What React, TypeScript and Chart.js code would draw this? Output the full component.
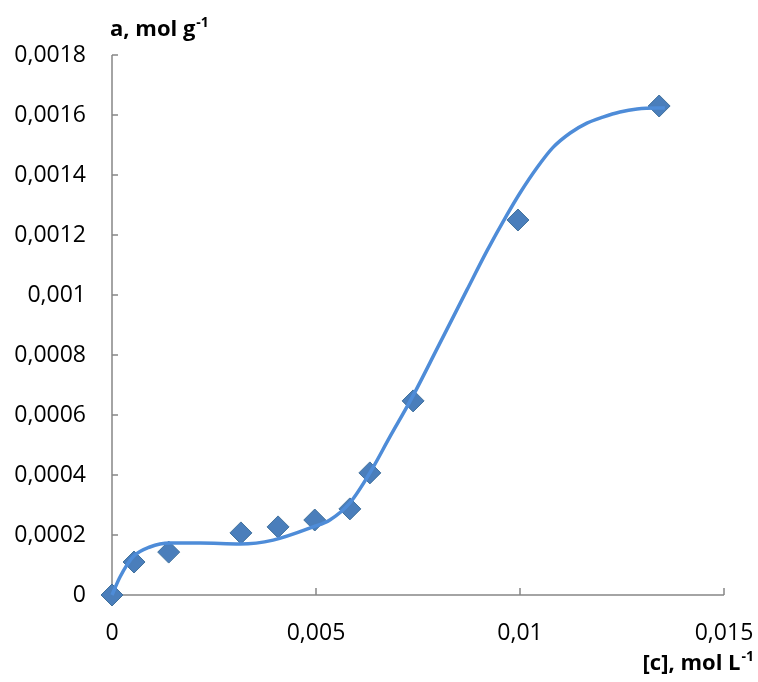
import React, { useEffect, useRef } from "react";
import { Chart, registerables } from "chart.js";

Chart.register(...registerables);

// Measured points: concentration [c] (mol/L) and adsorption a (mol/g)
const concentration = [0, 0.00054, 0.00139, 0.00316, 0.00407, 0.00497, 0.00583, 0.00632, 0.00738, 0.00995, 0.01341];
const adsorption = [0, 0.00011, 0.000143, 0.000207, 0.000227, 0.00025, 0.000287, 0.000407, 0.000647, 0.00125, 0.00163];

// Fitted smooth curve
const curveX = [0, 0.000196, 0.000515, 0.00093, 0.00142, 0.00216, 0.00314, 0.00395, 0.00493, 0.00534, 0.00583, 0.00632, 0.00681, 0.00735, 0.00799, 0.0087, 0.00919, 0.00968, 0.01, 0.01042, 0.01081, 0.01123, 0.01164, 0.01203, 0.01245, 0.01287, 0.01336, 0.01355];
const curveY = [0, 0.00006, 0.000127, 0.00016, 0.000173, 0.000173, 0.00017, 0.000183, 0.000227, 0.00025, 0.000307, 0.000407, 0.000527, 0.000657, 0.000827, 0.001017, 0.001147, 0.001267, 0.00134, 0.001425, 0.001492, 0.00154, 0.001573, 0.001593, 0.00161, 0.00162, 0.001623, 0.001623];

const xTickLabels = ["0", "0,005", "0,01", "0,015"];
const yTickLabels = ["0", "0,0002", "0,0004", "0,0006", "0,0008", "0,001", "0,0012", "0,0014", "0,0016", "0,0018"];

const yTitle = "a, mol g";
const yTitleSup = "-1";
const xTitle = "[c], mol L";
const xTitleSup = "-1";

const FONT = "'Open Sans', 'DejaVu Sans', sans-serif";
const AXIS_COLOR = "#868686";

const axesPlugin = {
  id: "excelAxes",
  beforeDatasetsDraw(chart: any) {
    const { ctx, chartArea, scales } = chart;
    const { left, right, top, bottom } = chartArea;
    ctx.save();
    ctx.strokeStyle = AXIS_COLOR;
    ctx.lineWidth = 1.5;
    ctx.beginPath();
    ctx.moveTo(left, top);
    ctx.lineTo(left, bottom);
    ctx.lineTo(right, bottom);
    ctx.stroke();
    ctx.beginPath();
    scales.y.ticks.forEach((t: any) => {
      const py = scales.y.getPixelForValue(t.value);
      ctx.moveTo(left, py);
      ctx.lineTo(left + 6, py);
    });
    scales.x.ticks.forEach((t: any) => {
      const px = scales.x.getPixelForValue(t.value);
      ctx.moveTo(px, bottom);
      ctx.lineTo(px, bottom - 7);
    });
    ctx.stroke();
    ctx.restore();
  },
  afterDraw(chart: any) {
    const { ctx } = chart;
    ctx.save();
    ctx.fillStyle = "#000";
    ctx.textBaseline = "alphabetic";
    const big = `bold 22px ${FONT}`;
    const small = `bold 14px ${FONT}`;
    // Y title
    ctx.font = big;
    ctx.textAlign = "left";
    ctx.fillText(yTitle, 110, 36);
    const w1 = ctx.measureText(yTitle).width;
    ctx.font = small;
    ctx.fillText(yTitleSup, 110 + w1 + 1, 27);
    // X title (right aligned)
    ctx.font = small;
    const ws = ctx.measureText(xTitleSup).width;
    ctx.font = big;
    const wm = ctx.measureText(xTitle).width;
    const endX = 754;
    const startX = endX - ws - 1 - wm;
    ctx.fillText(xTitle, startX, 670);
    ctx.font = small;
    ctx.fillText(xTitleSup, startX + wm + 1, 661);
    ctx.restore();
  },
};

export default function App() {
  const canvasRef = useRef<HTMLCanvasElement | null>(null);

  useEffect(() => {
    document.body.style.margin = "0";
    const canvas = canvasRef.current;
    if (!canvas) return;
    const chart = new Chart(canvas, {
      type: "scatter",
      data: {
        datasets: [
          {
            label: "curve",
            data: curveX.map((x, i) => ({ x, y: curveY[i] })),
            showLine: true,
            pointRadius: 0,
            borderColor: "#4E8CD8",
            borderWidth: 3.5,
            cubicInterpolationMode: "monotone",
            clip: false,
          } as any,
          {
            label: "points",
            data: concentration.map((x, i) => ({ x, y: adsorption[i] })),
            showLine: false,
            pointStyle: "rectRot",
            pointRadius: 11,
            backgroundColor: "#4A7EBB",
            borderColor: "#41719C",
            borderWidth: 1,
            clip: false,
          } as any,
        ],
      },
      options: {
        animation: false,
        responsive: false,
        maintainAspectRatio: false,
        layout: { padding: { top: 55, right: 34, left: 0, bottom: 0 } },
        plugins: {
          legend: { display: false },
          tooltip: { enabled: false },
        },
        scales: {
          x: {
            type: "linear",
            min: 0,
            max: 0.015,
            ticks: {
              stepSize: 0.005,
              padding: 25,
              color: "#000",
              font: { family: FONT, size: 23 },
              maxRotation: 0,
              callback: (_v: any, i: number) => xTickLabels[i],
            },
            grid: { display: false, drawTicks: false },
            border: { display: false },
            afterFit: (scale: any) => {
              scale.height = 87;
              scale.paddingLeft = 0;
              scale.paddingRight = 0;
            },
          },
          y: {
            type: "linear",
            min: 0,
            max: 0.0018,
            ticks: {
              stepSize: 0.0002,
              padding: 26,
              color: "#000",
              font: { family: FONT, size: 23 },
              callback: (_v: any, i: number) => yTickLabels[i],
            },
            grid: { display: false, drawTicks: false },
            border: { display: false },
            afterFit: (scale: any) => {
              scale.width = 112;
              scale.paddingTop = 0;
              scale.paddingBottom = 0;
            },
          },
        },
      } as any,
      plugins: [axesPlugin],
    });
    return () => chart.destroy();
  }, []);

  return (
    <div style={{ width: 758, height: 682, background: "#fff" }}>
      <canvas ref={canvasRef} width={758} height={682} style={{ display: "block" }} />
    </div>
  );
}
